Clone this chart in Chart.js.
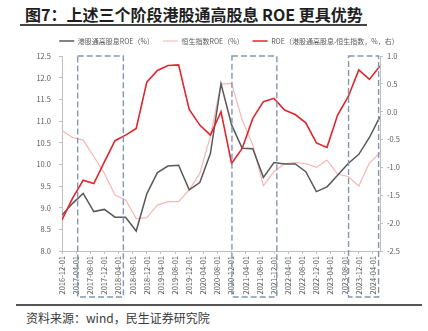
<!DOCTYPE html>
<html>
<head>
<meta charset="utf-8">
<script src="https://cdn.jsdelivr.net/npm/chart.js@4.4.1/dist/chart.umd.min.js"></script>
<style>
  html, body { margin: 0; padding: 0; background: #fff; }
  body { width: 428px; height: 331px; position: relative; overflow: hidden; font-family: "Noto Sans CJK SC", sans-serif; }
  .title { position: absolute; left: 20px; top: 4px; padding: 0 4px 0 5px; font-size: 16px; line-height: 20px; font-weight: bold; color: #1e1e1e; border-bottom: 2px solid #444; white-space: nowrap; }
  .chart-box { position: absolute; left: 0; top: 30px; width: 428px; height: 272px; }
  .rule { position: absolute; left: 16px; right: 6px; top: 304px; border-top: 2px solid #555; }
  .source { position: absolute; left: 26px; top: 309px; font-size: 12px; line-height: 18px; color: #3a3a3a; white-space: nowrap; }
</style>
</head>
<body>
<div class="title">图7：上述三个阶段港股通高股息 ROE 更具优势</div>
<div class="chart-box"><canvas id="roeChart"></canvas></div>
<div class="rule"></div>
<div class="source">资料来源：wind，民生证券研究院</div>

<script>
// 季度数据
const quarters = [
  '2016-12', '2017-03', '2017-06', '2017-09', '2017-12', '2018-03', '2018-06', '2018-09',
  '2018-12', '2019-03', '2019-06', '2019-09', '2019-12', '2020-03', '2020-06', '2020-09',
  '2020-12', '2021-03', '2021-06', '2021-09', '2021-12', '2022-03', '2022-06', '2022-09',
  '2022-12', '2023-03', '2023-06', '2023-09', '2023-12', '2024-03', '2024-06'
];
// 港股通高股息ROE（%）
const hsDivRoe = [
  8.83, 9.10, 9.33, 8.91, 8.96, 8.78, 8.78, 8.46,
  9.32, 9.81, 9.96, 9.98, 9.41, 9.58, 10.25, 11.86,
  10.91, 10.37, 10.36, 9.70, 10.04, 10.01, 10.01, 9.83,
  9.37, 9.48, 9.75, 10.02, 10.23, 10.62, 11.10
];
// 恒生指数ROE（%）
const hsiRoe = [
  10.78, 10.62, 10.56, 10.18, 9.79, 9.29, 9.18, 8.75,
  8.77, 9.06, 9.14, 9.14, 9.41, 9.79, 10.65, 11.85,
  11.87, 11.02, 10.45, 9.51, 9.83, 10.02, 10.04, 10.02,
  9.93, 10.10, 9.77, 9.72, 9.50, 10.03, 10.27
];
// 差值（右轴）
const roeSpread = [
  -1.94, -1.55, -1.23, -1.29, -0.90, -0.52, -0.42, -0.30,
  0.53, 0.74, 0.83, 0.84, 0.04, -0.24, -0.42, 0.00,
  -0.93, -0.66, -0.12, 0.18, 0.24, 0.03, -0.05, -0.20,
  -0.56, -0.64, -0.06, 0.27, 0.75, 0.58, 0.82
];

const xTickLabels = [
  '2016-12-01', '2017-04-01', '2017-08-01', '2017-12-01', '2018-04-01', '2018-08-01',
  '2018-12-01', '2019-04-01', '2019-08-01', '2019-12-01', '2020-04-01', '2020-08-01',
  '2020-12-01', '2021-04-01', '2021-08-01', '2021-12-01', '2022-04-01', '2022-08-01',
  '2022-12-01', '2023-04-01', '2023-08-01', '2023-12-01', '2024-04-01'
];
const leftTicks = [8.0, 8.5, 9.0, 9.5, 10.0, 10.5, 11.0, 11.5, 12.0, 12.5];
const rightTicks = [-2.5, -2.0, -1.5, -1.0, -0.5, 0.0, 0.5, 1.0];

// 三个阶段（虚线框）
const highlightSpans = [
  ['2017-04-14', '2018-05-12'],
  ['2020-12-04', '2021-12-25'],
  ['2023-09-04', '2024-05-19']
];

// 以2016-12为0的月份序号
function monthIndex(s) {
  const [y, m, d] = s.split('-').map(Number);
  return (y - 2016) * 12 + (m - 12) + (d ? (d - 1) / 30 : 0);
}

const points = arr => quarters.map((q, i) => ({ x: monthIndex(q), y: arr[i] }));

const spanBoxes = {
  id: 'spanBoxes',
  afterDraw(chart) {
    const { ctx, chartArea, scales: { x } } = chart;
    ctx.save();
    ctx.strokeStyle = '#8497b0';
    ctx.lineWidth = 1.4;
    ctx.setLineDash([6, 3]);
    highlightSpans.forEach(([a, b]) => {
      const x0 = x.getPixelForValue(monthIndex(a));
      const x1 = x.getPixelForValue(monthIndex(b));
      ctx.strokeRect(x0, chartArea.top, x1 - x0, chartArea.bottom + 46 - chartArea.top);
    });
    ctx.restore();
  }
};

// 图例整体右移一点、上移一点
const legendNudge = {
  id: 'legendNudge',
  afterLayout(chart) {
    const lg = chart.legend;
    lg.left += 15;
    lg.right += 15;
    lg.top -= 1.5;
    lg.bottom -= 1.5;
  }
};

Chart.defaults.font.family = '"Noto Sans CJK SC", sans-serif';
Chart.defaults.color = '#595959';

const axisColor = '#bfbfbf';

new Chart(document.getElementById('roeChart'), {
  type: 'line',
  data: {
    datasets: [
      {
        label: '港股通高股息ROE（%）',
        data: points(hsDivRoe),
        borderColor: '#595959',
        backgroundColor: '#595959',
        borderWidth: 1.5,
        yAxisID: 'y',
        order: 1,
      },
      {
        label: '恒生指数ROE（%）',
        data: points(hsiRoe),
        borderColor: '#f4b6b6',
        backgroundColor: '#f4b6b6',
        borderWidth: 1.2,
        yAxisID: 'y',
        order: 2,
      },
      {
        label: 'ROE（港股通高股息-恒生指数，%，右）',
        data: points(roeSpread),
        borderColor: '#e0262d',
        backgroundColor: '#e0262d',
        borderWidth: 1.6,
        yAxisID: 'y1',
        order: 0,
      },
    ],
  },
  options: {
    responsive: true,
    maintainAspectRatio: false,
    animation: false,
    layout: { padding: { left: 0, right: 0, top: 0, bottom: 2 } },
    elements: {
      point: { radius: 0 },
      line: { tension: 0 },
    },
    plugins: {
      tooltip: { enabled: false },
      legend: {
        position: 'top',
        labels: {
          usePointStyle: true,
          pointStyle: 'line',
          pointStyleWidth: 15,
          boxHeight: 7,
          padding: 9,
          font: { size: 7 },
          color: '#595959',
          sort: (a, b) => a.datasetIndex - b.datasetIndex,
        },
      },
    },
    scales: {
      x: {
        type: 'linear',
        min: 0,
        max: 90,
        afterBuildTicks: s => { s.ticks = xTickLabels.map(l => ({ value: monthIndex(l) })); },
        afterFit: s => { s.height = 49; },
        ticks: {
          autoSkip: false,
          minRotation: 90,
          maxRotation: 90,
          padding: 2,
          font: { size: 7.5 },
          callback: (v, i) => xTickLabels[i],
        },
        grid: { drawOnChartArea: false, tickLength: 3, color: axisColor },
        border: { color: axisColor },
      },
      y: {
        position: 'left',
        min: 8,
        max: 12.5,
        afterBuildTicks: s => { s.ticks = leftTicks.map(v => ({ value: v })); },
        afterFit: s => { s.width = 62; },
        ticks: { padding: 8, font: { size: 7.5 }, callback: v => v.toFixed(1) },
        grid: { drawOnChartArea: false, tickLength: 3, color: axisColor },
        border: { color: axisColor },
      },
      y1: {
        position: 'right',
        min: -2.5,
        max: 1.0,
        afterBuildTicks: s => { s.ticks = rightTicks.map(v => ({ value: v })); },
        afterFit: s => { s.width = 48; },
        ticks: { padding: 4, font: { size: 7.5 }, callback: v => v.toFixed(1) },
        grid: { drawOnChartArea: false, tickLength: 3, color: axisColor },
        border: { color: axisColor },
      },
    },
  },
  plugins: [spanBoxes, legendNudge],
});
</script>
</body>
</html>
